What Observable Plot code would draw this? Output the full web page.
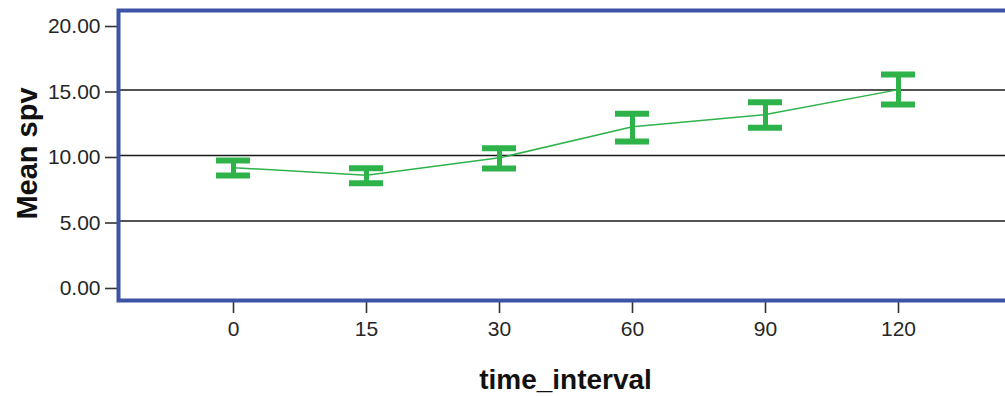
<!DOCTYPE html>
<html>
<head>
<meta charset="utf-8">
<script src="https://cdn.jsdelivr.net/npm/d3@7"></script>
<script src="https://cdn.jsdelivr.net/npm/@observablehq/plot@0.6"></script>
<style>
  html, body { margin: 0; padding: 0; background: #fff; }
  #chart svg { display: block; overflow: hidden; }
</style>
</head>
<body>
<div id="chart"></div>
<script>
// Data
const intervals = ["0", "15", "30", "60", "90", "120"];
const means = [9.07, 8.5, 9.82, 12.2, 13.13, 15.03];
const upper = [9.62, 9.03, 10.56, 13.18, 14.07, 16.18];
const lower = [8.47, 7.89, 9.0, 11.07, 12.11, 13.89];
const yTicks = [0, 5, 10, 15, 20];
const gridValues = [5, 10, 15];
const xTitle = "time_interval";
const yTitle = "Mean spv";

const data = intervals.map((t, i) => ({t, mean: means[i], hi: upper[i], lo: lower[i]}));

const green = "#2eb34b";
const blue = "#3d53a6";
const font = "'Liberation Sans', Arial, sans-serif";

const chart = Plot.plot({
  width: 1005,
  height: 396,
  marginLeft: 118,
  marginRight: -7,
  marginTop: 10,
  marginBottom: 96,
  style: {fontFamily: font, fontSize: "21px", background: "#fff", overflow: "hidden"},
  x: {type: "band", domain: intervals, paddingInner: 0.746, paddingOuter: 0.709},
  y: {domain: [-1.07, 21.07]},
  marks: [
    Plot.ruleY(gridValues, {stroke: "#1a1a1a", strokeWidth: 1.5}),
    Plot.axisY(yTicks, {
      tickSize: 13, tickPadding: 5, tickFormat: d3.format(".2f"),
      fontSize: 21, fill: "#262626", stroke: "#333", strokeWidth: 1.6, dy: 2, label: null
    }),
    Plot.axisX(intervals, {
      tickSize: 13, tickPadding: 8, fontSize: 21, fill: "#262626",
      stroke: "#333", strokeWidth: 1.6, label: null
    }),
    Plot.line(data, {x: "t", y: "mean", stroke: green, strokeWidth: 1.5}),
    Plot.ruleX(data, {x: "t", y1: "lo", y2: "hi", stroke: green, strokeWidth: 5}),
    Plot.tickY(data, {x: "t", y: "hi", stroke: green, strokeWidth: 6}),
    Plot.tickY(data, {x: "t", y: "lo", stroke: green, strokeWidth: 6}),
    Plot.frame({stroke: blue, strokeWidth: 4}),
    Plot.text([xTitle], {
      frameAnchor: "bottom", dy: 88, lineAnchor: "bottom",
      fontSize: 28, fontWeight: "bold", fill: "#111"
    }),
    Plot.text([yTitle], {
      frameAnchor: "left", dx: -82, dy: -2, rotate: -90, lineAnchor: "bottom", textAnchor: "middle",
      fontSize: 29, fontWeight: "bold", fill: "#111"
    })
  ]
});
document.getElementById("chart").appendChild(chart);
</script>
</body>
</html>
